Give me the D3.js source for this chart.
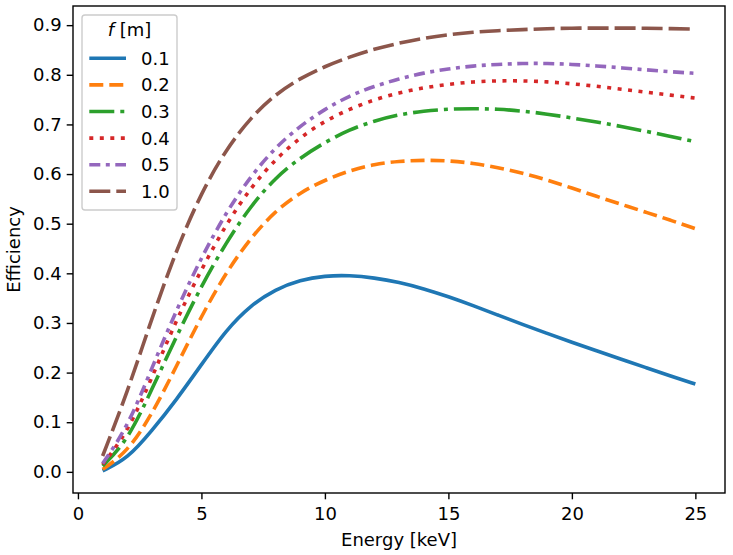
<!DOCTYPE html>
<html>
<head>
<meta charset="utf-8">
<script src="https://cdn.jsdelivr.net/npm/d3@7"></script>
<style>
  body { margin: 0; background: #fff; }
  text { font-family: "DejaVu Sans", sans-serif; }
</style>
</head>
<body>
<div id="chart"></div>
<script>
// data
const energy = [1, 2, 3, 4, 5, 6, 7, 8, 9, 10, 11, 12, 13, 14, 15, 16, 17, 18, 19, 20, 21, 22, 23, 24, 25];
const eff01 = [0.002, 0.026, 0.083, 0.146, 0.216, 0.286, 0.336, 0.368, 0.387, 0.395, 0.396, 0.391, 0.382, 0.369, 0.353, 0.335, 0.316, 0.297, 0.279, 0.261, 0.244, 0.227, 0.210, 0.193, 0.177];
const eff02 = [0.005, 0.040, 0.116, 0.214, 0.314, 0.402, 0.472, 0.526, 0.563, 0.588, 0.607, 0.620, 0.626, 0.628, 0.627, 0.622, 0.613, 0.602, 0.588, 0.572, 0.555, 0.539, 0.523, 0.507, 0.490];
const eff03 = [0.012, 0.062, 0.167, 0.274, 0.375, 0.462, 0.536, 0.593, 0.633, 0.664, 0.690, 0.707, 0.720, 0.727, 0.731, 0.732, 0.731, 0.727, 0.721, 0.713, 0.705, 0.696, 0.686, 0.676, 0.665];
const eff04 = [0.015, 0.079, 0.190, 0.308, 0.408, 0.499, 0.573, 0.630, 0.674, 0.707, 0.731, 0.750, 0.764, 0.774, 0.781, 0.786, 0.788, 0.788, 0.786, 0.782, 0.777, 0.771, 0.765, 0.759, 0.753];
const eff05 = [0.017, 0.089, 0.210, 0.328, 0.432, 0.523, 0.596, 0.654, 0.697, 0.731, 0.758, 0.777, 0.792, 0.804, 0.812, 0.818, 0.821, 0.823, 0.823, 0.821, 0.818, 0.814, 0.810, 0.806, 0.803];
const eff10 = [0.032, 0.160, 0.311, 0.449, 0.563, 0.650, 0.714, 0.761, 0.793, 0.817, 0.836, 0.852, 0.864, 0.874, 0.881, 0.886, 0.889, 0.891, 0.893, 0.894, 0.894, 0.894, 0.894, 0.893, 0.892];

const seriesNames = ["0.1", "0.2", "0.3", "0.4", "0.5", "1.0"];
const seriesValues = [eff01, eff02, eff03, eff04, eff05, eff10];
const xTicks = [0, 5, 10, 15, 20, 25];
const yTicks = [0.0, 0.1, 0.2, 0.3, 0.4, 0.5, 0.6, 0.7, 0.8, 0.9];

// look of each line
const colors = ["#1f77b4", "#ff7f0e", "#2ca02c", "#d62728", "#9467bd", "#8c564b"];
const dashes = [null, "14,6", "25,6,4,6", "4,6.5", "11,5.5,4,5.5", "21,6"];

const W = 733, H = 555;
const margin = { top: 6, right: 8, bottom: 62, left: 73 };
const width = W - margin.left - margin.right;
const height = H - margin.top - margin.bottom;
const fontSize = 18;

const svg = d3.select("#chart")
    .append("svg")
    .attr("width", W)
    .attr("height", H);

svg.append("rect").attr("width", W).attr("height", H).attr("fill", "#fff");

const g = svg.append("g")
    .attr("transform", `translate(${margin.left},${margin.top})`);

// matplotlib style 5% margins
const xMin = d3.min(energy), xMax = d3.max(energy);
const yMin = d3.min(seriesValues.flat()), yMax = d3.max(seriesValues.flat());
const xPad = (xMax - xMin) * 0.05, yPad = (yMax - yMin) * 0.05;

const x = d3.scaleLinear().domain([xMin - xPad, xMax + xPad]).range([0, width]);
const y = d3.scaleLinear().domain([yMin - yPad, yMax + yPad]).range([height, 0]);

// lines
const line = d3.line()
    .x((d, i) => x(energy[i]))
    .y(d => y(d))
    .curve(d3.curveBasis);

g.append("defs").append("clipPath").attr("id", "clip")
    .append("rect").attr("width", width).attr("height", height);

g.append("g").attr("clip-path", "url(#clip)")
    .selectAll("path")
    .data(seriesValues)
    .enter().append("path")
    .attr("d", line)
    .attr("fill", "none")
    .attr("stroke", (d, i) => colors[i])
    .attr("stroke-width", 3.6)
    .attr("stroke-dasharray", (d, i) => dashes[i]);

// axes
const xAxis = g.append("g")
    .attr("transform", `translate(0,${height})`)
    .call(d3.axisBottom(x).tickValues(xTicks).tickFormat(d3.format("d")).tickSize(6.3).tickPadding(8));

const yAxis = g.append("g")
    .call(d3.axisLeft(y).tickValues(yTicks).tickFormat(d3.format(".1f")).tickSize(6.3).tickPadding(5));

[xAxis, yAxis].forEach(a => {
    a.select(".domain").remove();
    a.selectAll("line").attr("stroke", "#000").attr("stroke-width", 1.4);
    a.selectAll("text").attr("font-size", fontSize).attr("fill", "#000")
        .style("font-family", "'DejaVu Sans', sans-serif");
});

// frame
g.append("rect")
    .attr("width", width).attr("height", height)
    .attr("fill", "none").attr("stroke", "#000").attr("stroke-width", 1.4);

// axis labels
svg.append("text")
    .attr("x", margin.left + width / 2)
    .attr("y", 546)
    .attr("text-anchor", "middle")
    .attr("font-size", fontSize)
    .text("Energy [keV]");

svg.append("text")
    .attr("transform", `translate(20,${margin.top + height / 2}) rotate(-90)`)
    .attr("text-anchor", "middle")
    .attr("font-size", fontSize)
    .text("Efficiency");

// legend
const legend = svg.append("g").attr("transform", "translate(82,15)");

legend.append("rect")
    .attr("width", 95).attr("height", 195)
    .attr("rx", 3)
    .attr("fill", "#fff").attr("fill-opacity", 0.8)
    .attr("stroke", "#cccccc").attr("stroke-width", 1.4);

const title = legend.append("text")
    .attr("x", 47.5).attr("y", 21)
    .attr("text-anchor", "middle")
    .attr("font-size", fontSize);
title.append("tspan").attr("font-style", "italic").text("f");
title.append("tspan").text(" [m]");

const item = legend.selectAll(".item")
    .data(seriesNames)
    .enter().append("g")
    .attr("class", "item")
    .attr("transform", (d, i) => `translate(0,${43.3 + i * 26.6})`);

item.append("line")
    .attr("x1", 7.3).attr("x2", 44)
    .attr("stroke", (d, i) => colors[i])
    .attr("stroke-width", 3.6)
    .attr("stroke-dasharray", (d, i) => dashes[i]);

item.append("text")
    .attr("x", 59).attr("y", 6.5)
    .attr("font-size", fontSize)
    .text(d => d);
</script>
</body>
</html>
